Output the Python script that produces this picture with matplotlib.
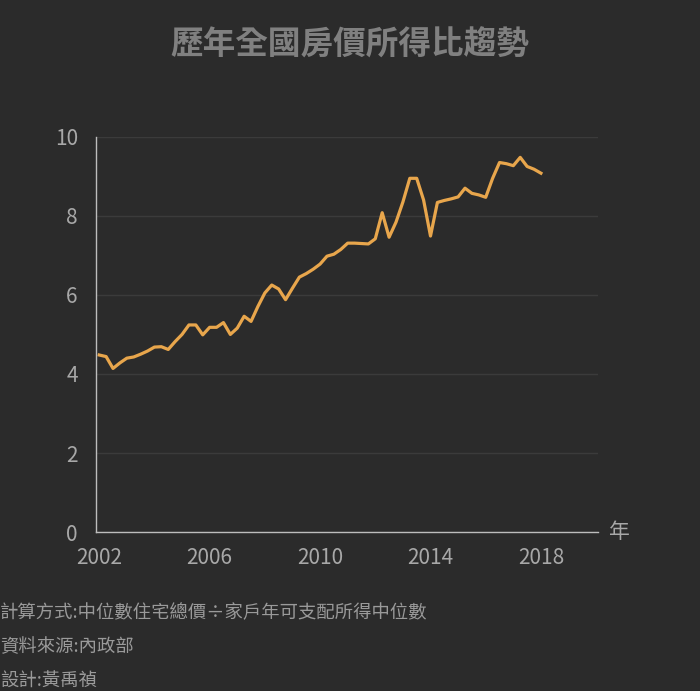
import numpy as np
import matplotlib
matplotlib.use("Agg")
import matplotlib.pyplot as plt

plt.rcParams['font.family'] = ['Noto Sans CJK TC', 'DejaVu Sans']

# quarterly housing price-to-income ratio, 2002Q1 .. 2018Q1
start_year = 2002
ratio = [4.48, 4.44, 4.14, 4.28, 4.40, 4.43, 4.50, 4.58,
         4.68, 4.69, 4.62, 4.82, 5.00, 5.24, 5.24, 4.99,
         5.18, 5.18, 5.30, 5.00, 5.16, 5.46, 5.33, 5.71,
         6.05, 6.25, 6.15, 5.88, 6.17, 6.45, 6.54, 6.65,
         6.78, 6.98, 7.03, 7.15, 7.31, 7.31, 7.30, 7.29,
         7.42, 8.08, 7.46, 7.84, 8.35, 8.95, 8.95, 8.40,
         7.49, 8.34, 8.39, 8.43, 8.48, 8.70, 8.57, 8.53,
         8.47, 8.95, 9.35, 9.32, 9.27, 9.48, 9.25, 9.18,
         9.08]
xticks = [2002, 2006, 2010, 2014, 2018]
yticks = [0, 2, 4, 6, 8, 10]

title = "歷年全國房價所得比趨勢"
notes = ["計算方式:中位數住宅總價÷家戶年可支配所得中位數",
         "資料來源:內政部",
         "設計:黃禹禎"]

bg = "#2b2b2b"
years = start_year + np.arange(len(ratio)) / 4

fig = plt.figure(figsize=(7, 6.91), dpi=100, facecolor=bg)
ax = fig.add_axes([0.137, 0.230, 0.717, 0.572], facecolor=bg)

ax.plot(years, ratio, color="#e8a64c", lw=2.3, solid_joinstyle="round")

ax.set_xlim(2001.88, 2020.06)
ax.set_ylim(0, 10)
ax.set_xticks(xticks)
ax.set_yticks(yticks)
ax.grid(axis="y", color="#3b3b3b", lw=1)
ax.set_axisbelow(True)
ax.tick_params(length=0, colors="#a8a8a8", labelsize=15)
ax.tick_params(axis="x", pad=11)
ax.tick_params(axis="y", pad=13)
for s in ["top", "right"]:
    ax.spines[s].set_visible(False)
for s in ["left", "bottom"]:
    ax.spines[s].set_color("#bdbdbd")
    ax.spines[s].set_linewidth(1)

fig.text(619 / 700, 1 - 532 / 691, "年", color="#a8a8a8", fontsize=15,
         ha="center", va="center")
fig.text(0.5, 1 - 45 / 691, title, color="#808080", fontsize=23.5,
         fontweight="bold", ha="center", va="center")
for i, t in enumerate(notes):
    fig.text(0.0, 1 - (613 + 34.5 * i) / 691, t, color="#9a9a9a",
             fontsize=13.2, ha="left", va="center")

fig.savefig("out.png", dpi=100, facecolor=bg)
